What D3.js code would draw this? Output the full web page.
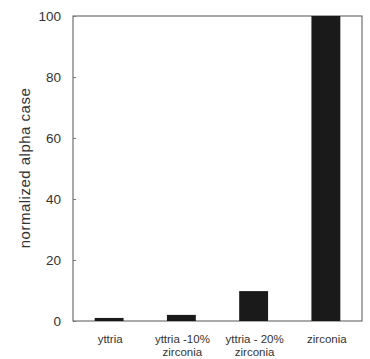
<!DOCTYPE html>
<html>
<head>
<meta charset="utf-8">
<script src="https://cdn.jsdelivr.net/npm/d3@7"></script>
<style>
  body { margin: 0; background: #fff; }
  svg { display: block; font-family: "Liberation Sans", Arial, sans-serif; }
</style>
</head>
<body>
<svg id="chart"></svg>
<script>
// values
const categories = ["yttria", "yttria -10%|zirconia", "yttria - 20%|zirconia", "zirconia"];
const values = [1, 2, 9.8, 100];
const yTicks = [0, 20, 40, 60, 80, 100];

const width = 370, height = 359;
const margin = { top: 16, right: 8, bottom: 38, left: 73 };

const svg = d3.select("#chart")
    .attr("width", width)
    .attr("height", height);

const x = d3.scaleBand()
    .domain(categories)
    .range([margin.left, width - margin.right])
    .paddingInner(0.6)
    .paddingOuter(0.3);

const y = d3.scaleLinear()
    .domain([0, 100])
    .range([height - margin.bottom, margin.top]);

// frame
svg.append("rect")
    .attr("x", margin.left)
    .attr("y", margin.top)
    .attr("width", width - margin.left - margin.right)
    .attr("height", height - margin.top - margin.bottom)
    .style("fill", "none")
    .style("stroke", "#555")
    .style("stroke-width", 1);

// bars
svg.selectAll("rect.bar")
    .data(values)
    .enter()
    .append("rect")
    .attr("class", "bar")
    .attr("x", (d, i) => x(categories[i]))
    .attr("y", d => y(d))
    .attr("width", x.bandwidth())
    .attr("height", d => y(0) - y(d))
    .style("fill", "#1a1a1a");

// y axis, ticks pointing inward
const yAxis = svg.append("g")
    .attr("transform", `translate(${margin.left},0)`)
    .call(d3.axisLeft(y).tickValues(yTicks).tickSize(-3).tickPadding(12));
yAxis.select(".domain").remove();
yAxis.selectAll("line").style("stroke", "#777");
yAxis.selectAll("text")
    .style("font-size", "13.5px")
    .style("fill", "#333");

// x labels (two lines)
const xl = svg.append("g");
categories.forEach(c => {
    const lines = c.split("|");
    const cx = x(c) + x.bandwidth() / 2 + 1;
    const t = xl.append("text")
        .attr("x", cx)
        .attr("y", height - margin.bottom + 22)
        .attr("text-anchor", "middle")
        .style("font-size", "11.5px")
        .style("fill", "#333");
    lines.forEach((s, i) => {
        t.append("tspan")
            .attr("x", cx)
            .attr("dy", i === 0 ? 0 : 13)
            .text(s);
    });
});

// y title
svg.append("text")
    .attr("transform", `translate(30,168) rotate(-90)`)
    .attr("text-anchor", "middle")
    .style("font-size", "15px")
    .style("letter-spacing", "0.5px")
    .style("fill", "#333")
    .text("normalized alpha case");
</script>
</body>
</html>
